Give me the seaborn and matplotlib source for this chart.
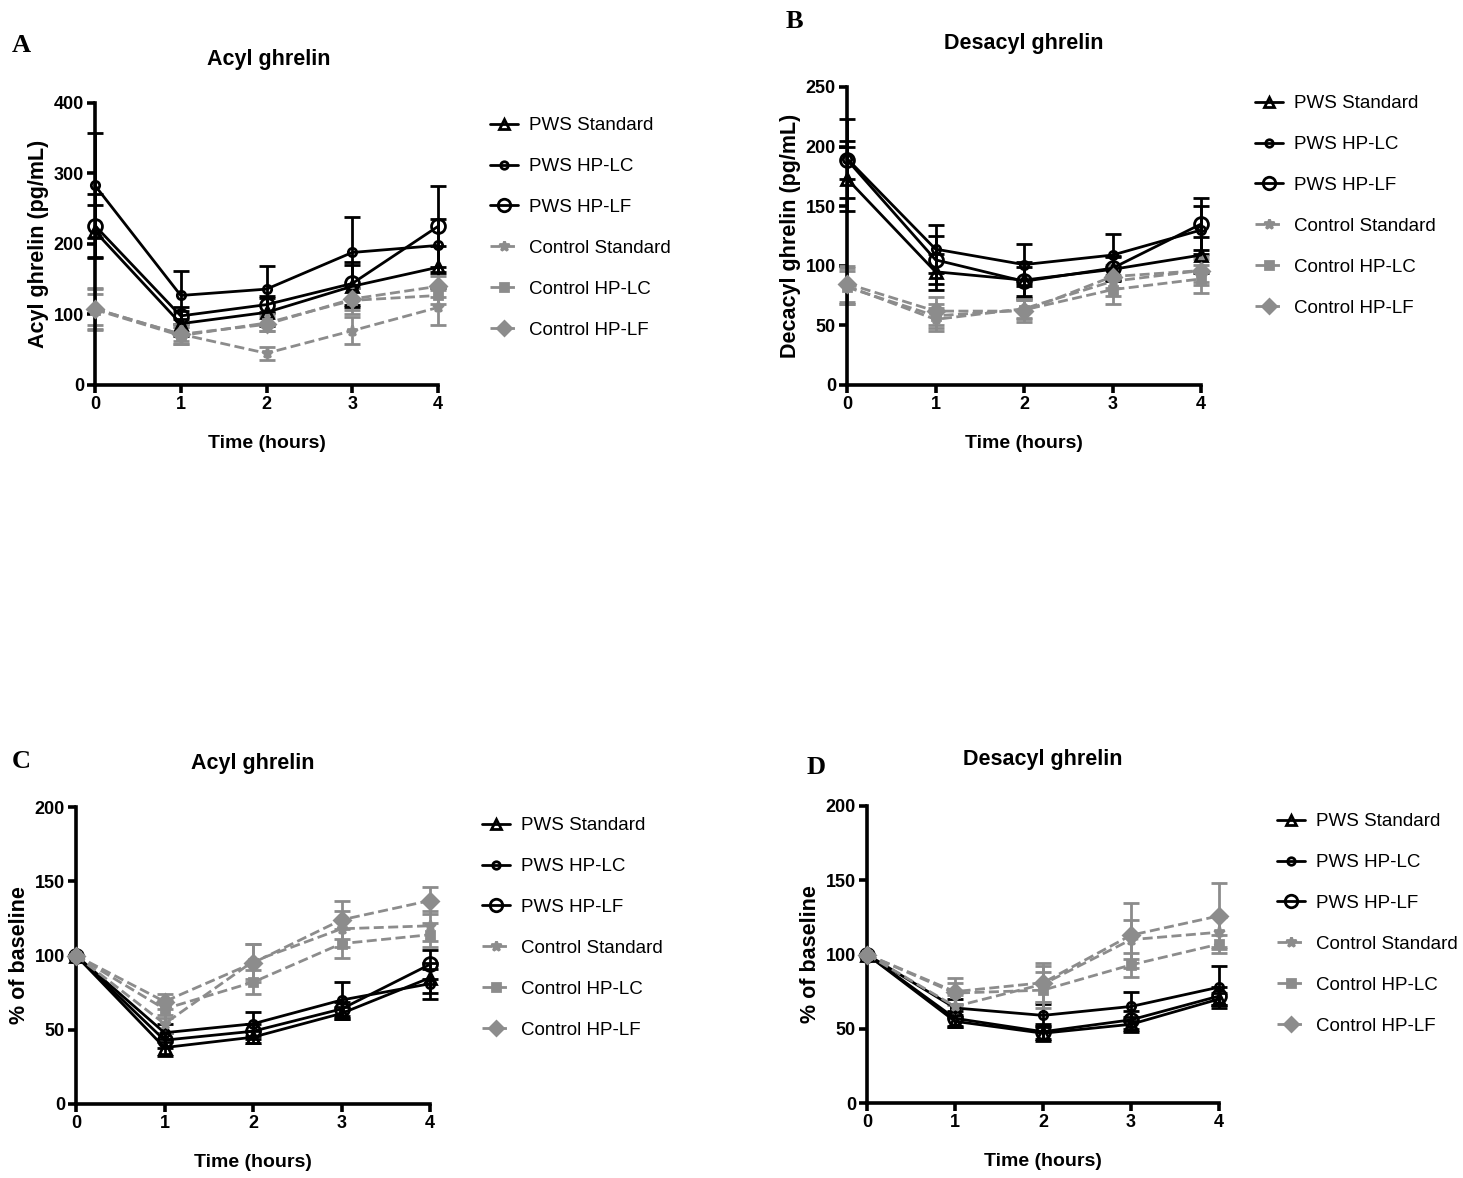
import numpy as np
import pandas as pd
import matplotlib
matplotlib.use("Agg")
import matplotlib.pyplot as plt
import seaborn as sns

# Time points and group names
time = [0, 1, 2, 3, 4]
groups = ["PWS Standard", "PWS HP-LC", "PWS HP-LF",
          "Control Standard", "Control HP-LC", "Control HP-LF"]

# Panel A: acyl ghrelin (pg/mL), mean and SEM
a_pws_std = [218, 87, 103, 140, 167]
a_pws_std_err = [38, 18, 20, 30, 30]
a_pws_lc = [283, 127, 136, 188, 198]
a_pws_lc_err = [75, 34, 33, 50, 38]
a_pws_lf = [226, 98, 114, 144, 225]
a_pws_lf_err = [45, 12, 12, 30, 57]
a_ctl_std = [108, 72, 45, 77, 110]
a_ctl_std_err = [30, 14, 9, 19, 25]
a_ctl_lc = [107, 70, 88, 120, 127]
a_ctl_lc_err = [22, 12, 12, 20, 12]
a_ctl_lf = [108, 72, 86, 122, 140]
a_ctl_lf_err = [28, 10, 10, 15, 15]

# Panel B: desacyl ghrelin (pg/mL)
b_pws_std = [173, 95, 88, 97, 109]
b_pws_std_err = [27, 15, 15, 10, 15]
b_pws_lc = [190, 114, 101, 109, 130]
b_pws_lc_err = [33, 20, 17, 18, 20]
b_pws_lf = [189, 105, 87, 98, 135]
b_pws_lf_err = [16, 20, 12, 10, 22]
b_ctl_std = [83, 55, 64, 87, 96]
b_ctl_std_err = [15, 10, 8, 12, 12]
b_ctl_lc = [82, 58, 63, 80, 89]
b_ctl_lc_err = [14, 10, 8, 12, 12]
b_ctl_lf = [85, 62, 62, 91, 96]
b_ctl_lf_err = [15, 12, 9, 10, 10]

# Panel C: acyl ghrelin, % of baseline
c_pws_std = [100, 38, 45, 61, 85]
c_pws_std_err = [0, 6, 4, 4, 10]
c_pws_lc = [100, 48, 54, 70, 81]
c_pws_lc_err = [0, 6, 8, 12, 10]
c_pws_lf = [100, 43, 49, 64, 94]
c_pws_lf_err = [0, 5, 5, 5, 10]
c_ctl_std = [100, 54, 96, 118, 120]
c_ctl_std_err = [0, 6, 12, 12, 10]
c_ctl_lc = [100, 64, 82, 108, 114]
c_ctl_lc_err = [0, 6, 8, 10, 8]
c_ctl_lf = [100, 69, 95, 124, 137]
c_ctl_lf_err = [0, 5, 13, 13, 9]

# Panel D: desacyl ghrelin, % of baseline
d_pws_std = [100, 55, 47, 53, 70]
d_pws_std_err = [0, 4, 5, 5, 4]
d_pws_lc = [100, 64, 59, 65, 78]
d_pws_lc_err = [0, 6, 8, 10, 14]
d_pws_lf = [100, 57, 48, 56, 72]
d_pws_lf_err = [0, 5, 5, 6, 6]
d_ctl_std = [100, 65, 80, 110, 115]
d_ctl_std_err = [0, 8, 12, 13, 10]
d_ctl_lc = [100, 74, 76, 93, 107]
d_ctl_lc_err = [0, 7, 12, 8, 6]
d_ctl_lf = [100, 75, 81, 113, 126]
d_ctl_lf_err = [0, 9, 13, 22, 22]

BLACK = "black"
GREY = "#8c8c8c"
styles = {
    "PWS Standard": dict(color=BLACK, marker="^", ms=8, mfc="none", ls="-"),
    "PWS HP-LC": dict(color=BLACK, marker="o", ms=6, mfc="none", ls="-"),
    "PWS HP-LF": dict(color=BLACK, marker="o", ms=10, mfc="none", ls="-"),
    "Control Standard": dict(color=GREY, marker="*", ms=8, mfc=GREY, ls="--"),
    "Control HP-LC": dict(color=GREY, marker="s", ms=6, mfc=GREY, ls="--"),
    "Control HP-LF": dict(color=GREY, marker="D", ms=8, mfc=GREY, ls="--"),
}

sns.set_theme(style="ticks")
plt.rcParams["font.family"] = ["Liberation Sans", "DejaVu Sans"]
plt.rcParams.update({"text.color": "black", "axes.labelcolor": "black",
                     "xtick.color": "black", "ytick.color": "black",
                     "axes.edgecolor": "black"})

fig = plt.figure(figsize=(14.63, 11.78), dpi=100)
W, H = 1463, 1178


def px_axes(left, top, right, bottom):
    return fig.add_axes([left / W, 1 - bottom / H, (right - left) / W, (bottom - top) / H])


def draw_panel(ax, means, errs, ymax, ystep, ylabel, title, title_xy, letter, letter_xy, leg_xy):
    for name, m, e in zip(groups, means, errs):
        st = styles[name]
        ax.errorbar(time, m, yerr=e, fmt="none", ecolor=st["color"], elinewidth=2,
                    capsize=6, capthick=2, clip_on=False, zorder=2)
        sns.lineplot(x=time, y=m, ax=ax, color=st["color"], marker=st["marker"],
                     markersize=st["ms"], mfc=st["mfc"], mec=st["color"], mew=2,
                     linestyle=st["ls"], linewidth=2, label=name, clip_on=False,
                     zorder=3)
    for line in ax.get_lines():
        if line.get_linestyle() == "--":
            line.set_dashes([3.6, 1.6])
    ax.set_xlim(0, 4)
    ax.set_ylim(0, ymax)
    ax.set_xticks(time)
    ax.set_yticks(np.arange(0, ymax + 1, ystep))
    sns.despine(ax=ax)
    for sp in ["left", "bottom"]:
        ax.spines[sp].set_linewidth(2.6)
    ax.tick_params(width=2.6, length=6, labelsize=13, pad=2)
    for lab in ax.get_xticklabels() + ax.get_yticklabels():
        lab.set_fontweight("bold")
    ax.set_xlabel("Time (hours)", fontsize=14, fontweight="bold", labelpad=16)
    ax.set_ylabel(ylabel, fontsize=15.5, fontweight="bold", labelpad=3)
    fig.text(title_xy[0] / W, 1 - title_xy[1] / H, title, ha="center", va="center",
             fontsize=15.5, fontweight="bold")
    fig.text(letter_xy[0] / W, 1 - letter_xy[1] / H, letter, ha="left", va="center",
             fontsize=19, fontweight="bold", family=["Liberation Serif", "DejaVu Serif"])
    ax.legend(loc="upper left", bbox_to_anchor=(leg_xy[0] / W, 1 - leg_xy[1] / H),
              bbox_transform=fig.transFigure, frameon=False, fontsize=13.5,
              handlelength=1.5, handletextpad=0.6, labelspacing=1.27, markerscale=0.9,
              borderaxespad=0, borderpad=0)


ax_a = px_axes(95, 103, 438, 385)
draw_panel(ax_a,
           [a_pws_std, a_pws_lc, a_pws_lf, a_ctl_std, a_ctl_lc, a_ctl_lf],
           [a_pws_std_err, a_pws_lc_err, a_pws_lf_err, a_ctl_std_err, a_ctl_lc_err, a_ctl_lf_err],
           400, 100, "Acyl ghrelin (pg/mL)", "Acyl ghrelin", (269, 60), "A", (12, 46), (490, 117))

ax_b = px_axes(847, 87, 1201, 385)
draw_panel(ax_b,
           [b_pws_std, b_pws_lc, b_pws_lf, b_ctl_std, b_ctl_lc, b_ctl_lf],
           [b_pws_std_err, b_pws_lc_err, b_pws_lf_err, b_ctl_std_err, b_ctl_lc_err, b_ctl_lf_err],
           250, 50, "Decacyl ghrelin (pg/mL)", "Desacyl ghrelin", (1024, 44), "B", (786, 22), (1255, 95))

ax_c = px_axes(76, 807, 430, 1104)
draw_panel(ax_c,
           [c_pws_std, c_pws_lc, c_pws_lf, c_ctl_std, c_ctl_lc, c_ctl_lf],
           [c_pws_std_err, c_pws_lc_err, c_pws_lf_err, c_ctl_std_err, c_ctl_lc_err, c_ctl_lf_err],
           200, 50, "% of baseline", "Acyl ghrelin", (253, 764), "C", (12, 762), (482, 817))

ax_d = px_axes(867, 806, 1219, 1103)
draw_panel(ax_d,
           [d_pws_std, d_pws_lc, d_pws_lf, d_ctl_std, d_ctl_lc, d_ctl_lf],
           [d_pws_std_err, d_pws_lc_err, d_pws_lf_err, d_ctl_std_err, d_ctl_lc_err, d_ctl_lf_err],
           200, 50, "% of baseline", "Desacyl ghrelin", (1043, 760), "D", (807, 767), (1277, 813))

fig.savefig("out.png", dpi=100)
